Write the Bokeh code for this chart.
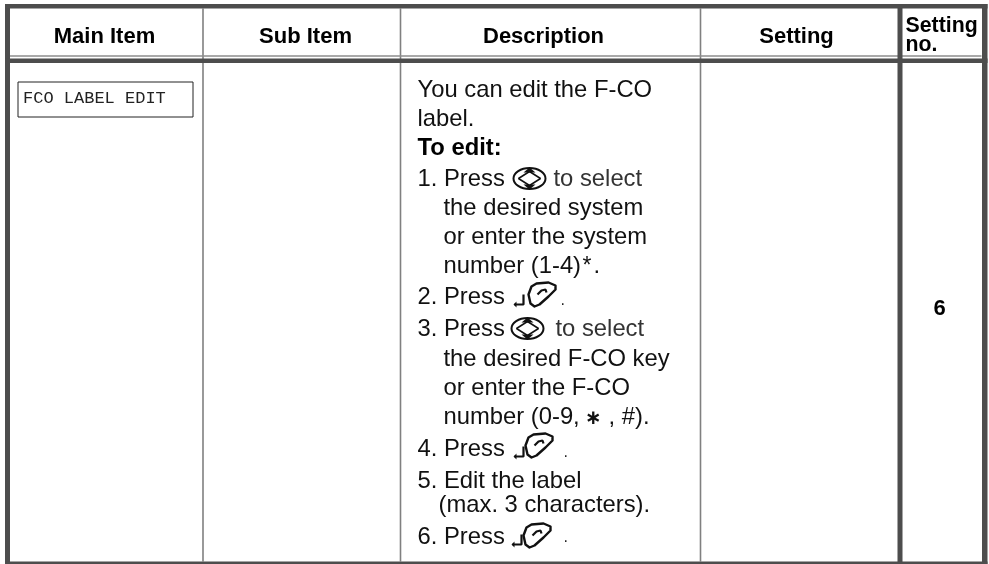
from bokeh.plotting import figure
from bokeh.models import Range1d
from bokeh.core.properties import value
from bokeh.embed import file_html
from bokeh.resources import INLINE

# table structure (page pixels)
thin_cols = [202.5, 400, 700]
thick_v = [(4.5, 9.5), (897, 902), (981.5, 987)]
thick_h = [(3.5, 8), (58, 62.5), (561, 564)]
rule_y = 55.5

headers = ["Main Item", "Sub Item", "Description", "Setting"]
header_x = [104, 305, 543, 796]
header_y = 35
setting_no = [("Setting", 905, 24), ("no.", 905, 43)]

body = [
    ("You can edit the F-CO", 417, 88, "normal"),
    ("label.", 417, 117, "normal"),
    ("To edit:", 417, 146, "bold"),
    ("1. Press", 417, 177, "normal"),
    ("to select", 553, 177, "grey"),
    ("the desired system", 443, 206, "normal"),
    ("or enter the system", 443, 235, "normal"),
    ("number (1-4)", 443, 264, "normal"),
    (".", 593, 264, "normal"),
    ("2. Press", 417, 295, "normal"),
    ("3. Press", 417, 327, "normal"),
    ("to select", 555, 327, "grey"),
    ("the desired F-CO key", 443, 357, "normal"),
    ("or enter the F-CO", 443, 386, "normal"),
    ("number (0-9,", 443, 415, "normal"),
    (", #).", 608, 415, "normal"),
    ("4. Press", 417, 447, "normal"),
    ("5. Edit the label", 417, 479, "normal"),
    ("(max. 3 characters).", 438, 503, "normal"),
    ("6. Press", 417, 535, "normal"),
]
nav_keys = [(529, 178), (527, 328)]
# hook x, hook bottom y, blob x, blob y, dot x, dot y
phone_keys = [(513, 305, 528, 282, 560, 298), (513, 457, 525, 433, 563, 450), (511, 545, 523, 523, 563, 535)]
blob_x = [3, 8, 20, 27, 27, 20, 11, 6, 2, 0]
blob_y = [4, 1, 0, 3, 7, 14, 22, 24, 21, 12]
hand_x = [9, 13, 17, 18]
hand_y = [12, 8, 7, 10]

p = figure(width=989, height=564, output_backend="svg", toolbar_location=None,
           x_range=Range1d(0, 989), y_range=Range1d(564, 0), min_border=0,
           outline_line_color=None)
p.axis.visible = False
p.grid.visible = False
p.styles = {"position": "fixed", "left": "0px", "top": "0px"}

p.segment(thin_cols, [8] * 3, thin_cols, [561] * 3, line_color="#808080", line_width=1.6)
p.segment([9], [rule_y], [981], [rule_y], line_color="#8c8c8c", line_width=1.6)
p.quad(left=[a for a, b in thick_v], right=[b for a, b in thick_v], top=[3.5] * 3, bottom=[564] * 3,
       fill_color="#4d4d4d", line_color=None)
p.quad(left=[4.5] * 3, right=[987] * 3, top=[a for a, b in thick_h], bottom=[b for a, b in thick_h],
       fill_color="#4d4d4d", line_color=None)

font = value("Liberation Sans")
p.text(header_x, [header_y] * 4, text=headers, text_font=font, text_font_size="22px",
       text_font_style="bold", text_align="center", text_baseline="alphabetic", text_color="#000000")
p.text([s[1] for s in setting_no], [s[2] for s in setting_no], text=[s[0] for s in setting_no],
       text_font=font, text_font_size="21.3px", text_font_style="bold", text_baseline="alphabetic",
       text_color="#000000")
p.text([939], [307], text=["6"], text_font=font, text_font_size="22px", text_font_style="bold",
       text_align="center", text_baseline="alphabetic", text_color="#000000")

p.quad(left=[17.5], right=[192.5], top=[81.5], bottom=[116.5], fill_color=None, line_color="#222222", line_width=1)
p.text([22.5], [98], text=["FCO LABEL EDIT"], text_font=value("Liberation Mono"), text_font_size="17px",
       text_baseline="alphabetic", text_color="#222222")

for style, col, fs in [("normal", "#111111", "normal"), ("grey", "#333333", "normal"), ("bold", "#000000", "bold")]:
    rows = [b for b in body if b[3] == style]
    p.text([r[1] for r in rows], [r[2] for r in rows], text=[r[0] for r in rows], text_font=font,
           text_font_size="23.8px", text_font_style=fs, text_baseline="alphabetic", text_color=col)

p.text([582], [264], text=["*"], text_font=font, text_font_size="23px", text_baseline="alphabetic", text_color="#111111")
p.text([593], [416], text=["∗"], text_font=value("DejaVu Sans"), text_font_size="20px", text_font_style="bold",
       text_baseline="alphabetic", text_align="center", text_color="#111111")

for cx, cy in nav_keys:
    p.ellipse([cx], [cy], width=32, height=21, fill_color=None, line_color="#111111", line_width=2)
    p.patch([cx - 11, cx, cx + 11, cx], [cy, cy - 7, cy, cy + 7], fill_color="white", line_color="#111111", line_width=1.5)
    p.patch([cx - 6, cx, cx + 6], [cy - 6, cy - 11, cy - 6], fill_color="#111111", line_color=None)
    p.patch([cx - 6, cx, cx + 6], [cy + 6, cy + 11, cy + 6], fill_color="#111111", line_color=None)

for hx, hb, bx, by, dx, dy in phone_keys:
    p.line([hx + 1, hx + 10, hx + 10], [hb - 1, hb - 1, hb - 11], line_color="#111111", line_width=2.2)
    p.patch([hx, hx + 3, hx + 3], [hb - 1, hb - 4, hb + 2], fill_color="#111111", line_color=None)
    p.patch([bx + v for v in blob_x], [by + v for v in blob_y],
            fill_color=None, line_color="#111111", line_width=2.4, line_join="round")
    p.line([bx + v for v in hand_x], [by + v for v in hand_y], line_color="#111111", line_width=2.2)
    p.text([dx], [dy], text=["."], text_font=font, text_font_size="16px", text_baseline="alphabetic", text_color="#222222")

open("out.html", "w").write(file_html(p, INLINE))
